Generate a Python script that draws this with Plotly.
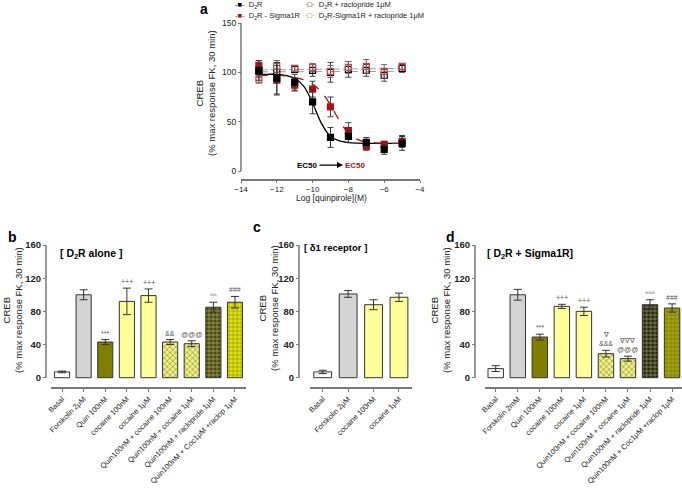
import plotly.graph_objects as go

W, H = 682, 490
FONT = "Liberation Sans, Arial, sans-serif"


def px(x):
    return x / W


def py(y):
    return 1 - y / H


# ---- panel a : quinpirole dose response ----
log_quin = [-13, -12, -11, -10, -9, -8, -7, -6, -5]
d2r = [102, 94, 90, 70, 34, 35, 29, 22, 28]
d2r_err = [10, 16, 8, 12, 10, 6, 5, 5, 7]
d2r_s1r = [107, 92, 87, 83, 65, 41, 25, 27, 30]
d2r_s1r_err = [5, 15, 6, 8, 10, 8, 4, 3, 6]
d2r_rac = [101, 100, 103, 102, 100, 103, 102, 97, 104]
d2r_rac_err = [6, 10, 3, 6, 10, 8, 6, 6, 4]
d2r_s1r_rac = [93, 106, 104, 105, 101, 105, 106, 101, 106]
d2r_s1r_rac_err = [4, 6, 3, 4, 6, 6, 7, 7, 3]

# fitted curves
fit_x = [-13, -12.5, -12, -11.5, -11, -10.5, -10, -9.5, -9, -8.5, -8, -7.5, -7, -6.5, -6, -5.5, -5]
fit_d2r = [98, 98, 98, 97, 94, 86, 69, 48, 35, 30.5, 28.8, 28.2, 28, 28, 28, 28, 28]
fit_d2r_s1r = [97, 97, 97, 96.5, 95, 92.5, 88, 80, 67, 51, 38.5, 32, 29.5, 28.6, 28.2, 28, 28]
fit_flat_x = [-13, -5]
fit_rac = [100.5, 101]
fit_s1r_rac = [102.5, 104]

# ---- panel b : D2R alone ----
b_labels = ["Basal", "Forskolin 2μM", "Quin 100nM", "cocaine 100nM", "cocaine 1μM",
            "Quin100nM + cocaine 100nM", "Quin100nM + cocaine 1μM",
            "Quin100nM + raclopride 1μM", "Quin100nM + Coc1μM +raclop 1μM"]
b_values = [7, 100, 43, 92, 99, 43, 41, 85, 91]
b_err = [1, 6, 3, 16, 8, 3, 3.5, 6, 7]
b_marks = ["", "", "***", "+++", "+++", "&&", "@@@", "^^", "###"]

# ---- panel c : sigma1 receptor ----
c_labels = ["Basal", "Forskolin 2μM", "cocaine 100nM", "cocaine 1μM"]
c_values = [7, 101, 88, 97]
c_err = [2, 4, 6, 5]

# ---- panel d : D2R + Sigma1R ----
d_labels = ["Basal", "Forskolin 2mM", "Quin 100nM", "cocaine 100nM", "cocaine 1μM",
            "Quin100nM + cocaine 100nM", "Quin100nM + cocaine 1μM",
            "Quin100nM + raclopride 1μM", "Quin100nM + Coc1μM +raclop 1μM"]
d_values = [11, 100, 49, 86, 80, 29, 23, 88, 84]
d_err = [3.5, 6.5, 3.5, 2.5, 5, 4, 3, 6, 5]
d_marks = ["", "", "***", "+++", "+++", "∇<br>&&&", "∇∇∇<br>@@@", "^^^", "###"]

# bar styling
b_fill = ["#ffffff", "#d4d4d4", "#7f7f00", "#ffff99", "#ffff99", "#f2f27a", "#f2f27a", "#4a4a00", "#e6e600"]
b_shape = ["", "", "", "", "", "x", "x", "+", "+"]
b_fg = ["#000", "#000", "#000", "#000", "#000", "#9a9a10", "#9a9a10", "#9c9c20", "#6b6b00"]
c_fill = ["#ffffff", "#d4d4d4", "#ffff99", "#ffff99"]
d_fill = ["#ffffff", "#d4d4d4", "#7f7f00", "#ffff99", "#ffff99", "#f2f27a", "#f2f27a", "#262600", "#a8a800"]
d_fg = ["#000", "#000", "#000", "#000", "#000", "#9a9a10", "#9a9a10", "#8a8a10", "#3d3d00"]

RED = "#a81414"
fig = go.Figure()

# fits
fig.add_trace(go.Scatter(x=fit_flat_x, y=fit_rac, mode="lines", line=dict(color="#9a9a9a", width=1, dash="dash"),
                         xaxis="x", yaxis="y", showlegend=False))
fig.add_trace(go.Scatter(x=fit_flat_x, y=fit_s1r_rac, mode="lines", line=dict(color="#b09a9a", width=1, dash="dashdot"),
                         xaxis="x", yaxis="y", showlegend=False))
fig.add_trace(go.Scatter(x=fit_x, y=fit_d2r, mode="lines", line=dict(color="black", width=1.3, shape="spline"),
                         xaxis="x", yaxis="y", showlegend=False))
fig.add_trace(go.Scatter(x=fit_x, y=fit_d2r_s1r, mode="lines", line=dict(color=RED, width=1.3, dash="dash", shape="spline"),
                         xaxis="x", yaxis="y", showlegend=False))

# points
for yv, ev, sym, col, ecol in [
    (d2r_rac, d2r_rac_err, "square-open", "black", "#444"),
    (d2r_s1r_rac, d2r_s1r_rac_err, "square-open", "#c84848", "#666"),
    (d2r_s1r, d2r_s1r_err, "square", RED, "#444"),
    (d2r, d2r_err, "square", "black", "#333"),
]:
    fig.add_trace(go.Scatter(
        x=log_quin, y=yv, mode="markers",
        marker=dict(symbol=sym, size=6, color=col, line=dict(width=1.2, color=col)),
        error_y=dict(type="data", array=ev, color=ecol, thickness=1, width=3),
        xaxis="x", yaxis="y", showlegend=False))


def add_bars(xa, ya, values, err, fill, shapes, fg):
    fig.add_trace(go.Bar(
        x=list(range(len(values))), y=values, width=0.7,
        marker=dict(color=fill, line=dict(color="#333", width=1),
                    pattern=dict(shape=shapes, fgcolor=fg, size=4, solidity=0.35)),
        error_y=dict(type="data", array=err, color="#333", thickness=1, width=4),
        xaxis=xa, yaxis=ya, showlegend=False))


add_bars("x2", "y2", b_values, b_err, b_fill, b_shape, b_fg)
add_bars("x3", "y3", c_values, c_err, c_fill, [""] * 4, ["#000"] * 4)
add_bars("x4", "y4", d_values, d_err, d_fill, b_shape, d_fg)

ann = []
for xa, ya, vals, errs, marks in [("x2", "y2", b_values, b_err, b_marks),
                                  ("x4", "y4", d_values, d_err, d_marks)]:
    for i, m in enumerate(marks):
        if m:
            ann.append(dict(x=i, y=vals[i] + errs[i], xref=xa, yref=ya, text=m, showarrow=False,
                            xanchor="center", yanchor="bottom", yshift=1,
                            font=dict(size=7, color="#555")))

# EC50 shift
ann.append(dict(x=-10.26, y=6, xref="x", yref="y", text="<b>EC50</b>", showarrow=False,
                xanchor="center", yanchor="middle", font=dict(size=8, color="black")))
ann.append(dict(x=-7.58, y=6, xref="x", yref="y", text="<b>EC50</b>", showarrow=False,
                xanchor="center", yanchor="middle", font=dict(size=8, color=RED)))
ann.append(dict(x=-8.3, y=6, ax=-9.7, ay=6, xref="x", yref="y", axref="x", ayref="y", text="",
                showarrow=True, arrowhead=2, arrowsize=1, arrowwidth=1.2, arrowcolor="black"))


def note(text, x0, y0, size, xanchor="center", **kw):
    ann.append(dict(x=px(x0), y=py(y0), xref="paper", yref="paper", text=text, showarrow=False,
                    xanchor=xanchor, yanchor="middle", font=dict(size=size, color=kw.pop("color", "#222")),
                    **kw))


# legend (text glyphs)
leg = [(233, 5, '<span style="color:black">-■-</span>', "D<sub>2</sub>R"),
       (233, 16, '<span style="color:%s">-■-</span>' % RED, "D<sub>2</sub>R - Sigma1R"),
       (303, 5, '<span style="color:black">·□·</span>', "D<sub>2</sub>R + raclopride 1μM"),
       (303, 16, '<span style="color:#c84848">·□·</span>', "D<sub>2</sub>R-Sigma1R + raclopride 1μM")]
for x0, y0, g, t in leg:
    note(g + "  " + t, x0, y0, 7.5, xanchor="left")

# panel letters
for t, x0, y0 in [("a", 204, 9), ("b", 12, 237), ("c", 257, 227), ("d", 450, 237)]:
    note("<b>%s</b>" % t, x0, y0, 14, color="black")

# panel titles
for t, x0, y0, fs in [("[ D<sub>2</sub>R alone ]", 58, 254, 10.5), ("[ δ1 receptor ]", 302, 248, 9.5),
                      ("[ D<sub>2</sub>R + Sigma1R]", 485, 254, 10.5)]:
    note("<b>%s</b>" % t, x0, y0, fs, xanchor="left", color="black")

# y titles
for x0, y0 in [(205, 93), (12, 310), (268, 308), (440, 310)]:
    note("CREB<br>(% max response FK, 30 min)", x0, y0, 9.5, textangle=-90)

note("Log [quinpirole](M)", 331, 198, 8.5)

AX = "#777"
shapes = [dict(type="line", xref="paper", yref="y", x0=px(241), x1=px(241), y0=0, y1=150,
               line=dict(color=AX, width=1.5))]
for ya, xpos in [("y2", 46), ("y3", 299), ("y4", 475)]:
    shapes.append(dict(type="line", xref="paper", yref=ya, x0=px(xpos), x1=px(xpos), y0=0, y1=160,
                       line=dict(color=AX, width=1.5)))


def xbar(dom, rng, labels):
    return dict(domain=dom, range=rng, tickvals=list(range(len(labels))), ticktext=labels,
                tickangle=-45, ticks="outside", ticklen=3, tickcolor=AX, showline=True,
                linecolor=AX, linewidth=1.5, showgrid=False, zeroline=False, automargin=False,
                tickfont=dict(size=7.5, color="#222"))


def ybar(pos):
    return dict(domain=[py(387), py(245)], range=[-11.2, 160], tickvals=[0, 40, 80, 120, 160],
                anchor="free", position=px(pos), ticks="outside", ticklen=3, tickcolor=AX,
                showline=False, showgrid=False, zeroline=False, automargin=False,
                tickfont=dict(size=9.5, color="#222", weight="bold"))


fig.update_layout(
    width=W, height=H, margin=dict(l=0, r=0, t=0, b=0, autoexpand=False),
    paper_bgcolor="white", plot_bgcolor="white",
    font=dict(family=FONT, color="#222"),
    bargap=0.3,
    xaxis=dict(domain=[px(241), px(420)], range=[-14, -4], dtick=2, ticks="outside", ticklen=2,
               tickcolor=AX, showline=True, linecolor=AX, linewidth=1.5, showgrid=False,
               zeroline=False, anchor="y", automargin=False, tickfont=dict(size=8)),
    yaxis=dict(domain=[py(179), py(23)], range=[-8.1, 150], tickvals=[0, 50, 100, 150],
               anchor="free", position=px(241), ticks="outside", ticklen=3, tickcolor=AX,
               showline=False, showgrid=False, zeroline=False, automargin=False,
               tickfont=dict(size=8.5)),
    xaxis2=dict(xbar([px(51.2), px(245.8)], [-0.5, 8.5], b_labels), anchor="y2"),
    yaxis2=ybar(46),
    xaxis3=dict(xbar([px(310), px(411.7)], [-0.5, 3.5], c_labels), anchor="y3"),
    yaxis3=ybar(299),
    xaxis4=dict(xbar([px(484.7), 1.0], [-0.5, 8.45], d_labels), anchor="y4"),
    yaxis4=ybar(475),
    annotations=ann,
    shapes=shapes,
)

# the page body has a default 8px margin; drop it so the figure sits at the window corner
fig.write_html("out.html", config={"displayModeBar": False},
               post_script="document.body.style.margin='0';")
